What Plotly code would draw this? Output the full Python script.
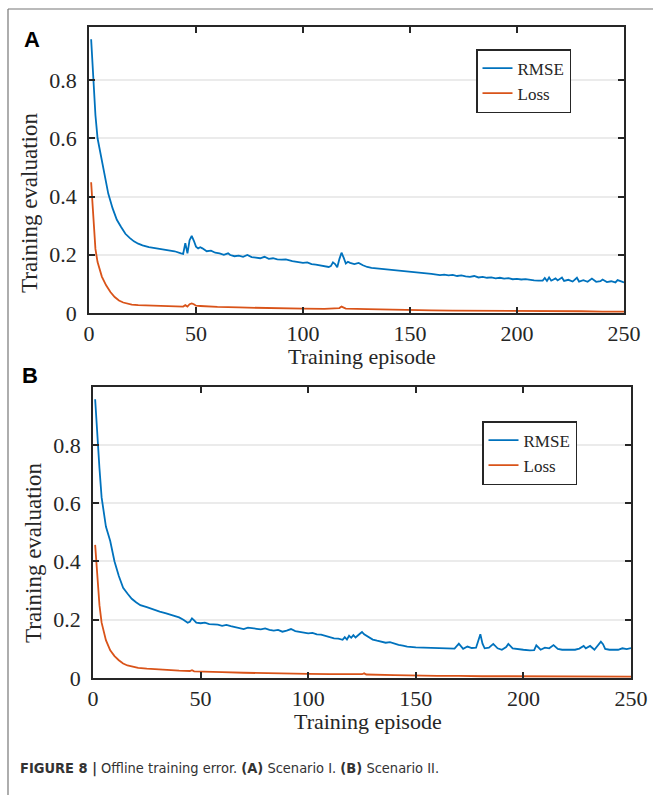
import plotly.graph_objects as go

# ---------------- data ----------------
ep_rmse_a = [1, 2, 3, 4, 5, 7, 9, 11, 13, 15, 17, 19, 21, 23, 25, 28, 31, 34, 37, 40, 43, 44, 45, 46, 47, 48, 49, 50,
             51, 52, 53, 55, 57, 59, 61, 63, 65, 66, 68, 70, 72, 74, 76, 78, 80, 82, 84, 86, 88, 90, 92, 95, 98, 100,
             102, 104, 106, 108, 110, 112, 113, 114, 115, 116, 117, 118, 119, 120, 121, 122, 124, 126, 128, 130, 132,
             135, 138, 142, 146, 150, 155, 160, 164, 166, 168, 170, 172, 174, 176, 178, 180, 182, 184, 186, 188, 190,
             192, 194, 196, 198, 200, 202, 204, 206, 208, 210, 212, 213, 214, 215, 216, 218, 219, 221, 222, 224, 226,
             228, 229, 231, 233, 235, 237, 239, 240, 242, 244, 246, 247, 249, 250]
rmse_a = [0.94, 0.80, 0.68, 0.60, 0.56, 0.48, 0.41, 0.36, 0.32, 0.295, 0.272, 0.258, 0.246, 0.238, 0.232, 0.226, 0.222,
          0.219, 0.216, 0.212, 0.205, 0.203, 0.240, 0.205, 0.250, 0.265, 0.248, 0.228, 0.222, 0.226, 0.222, 0.212,
          0.214, 0.207, 0.205, 0.200, 0.205, 0.199, 0.195, 0.197, 0.193, 0.199, 0.192, 0.191, 0.188, 0.193, 0.186,
          0.188, 0.184, 0.183, 0.184, 0.178, 0.175, 0.172, 0.174, 0.168, 0.166, 0.163, 0.160, 0.158, 0.161, 0.174,
          0.168, 0.157, 0.185, 0.207, 0.190, 0.170, 0.176, 0.172, 0.168, 0.172, 0.164, 0.158, 0.155, 0.153, 0.150,
          0.148, 0.145, 0.142, 0.138, 0.134, 0.130, 0.132, 0.129, 0.131, 0.127, 0.129, 0.126, 0.124, 0.127, 0.122,
          0.124, 0.121, 0.122, 0.119, 0.121, 0.118, 0.120, 0.116, 0.117, 0.115, 0.116, 0.113, 0.112, 0.111, 0.111,
          0.120, 0.110, 0.122, 0.111, 0.119, 0.112, 0.122, 0.110, 0.114, 0.108, 0.121, 0.108, 0.113, 0.107, 0.118,
          0.107, 0.109, 0.115, 0.106, 0.109, 0.105, 0.113, 0.108, 0.105]

ep_loss_a = [1, 2, 3, 4, 5, 6, 8, 10, 12, 14, 16, 18, 20, 23, 26, 30, 35, 40, 44, 45, 46, 47, 48, 49, 50, 52, 55, 60,
             70, 80, 90, 100, 110, 115, 117, 118, 119, 120, 130, 140, 150, 160, 170, 180, 190, 200, 210, 215, 220,
             230, 240, 250]
loss_a = [0.449, 0.33, 0.22, 0.175, 0.15, 0.125, 0.095, 0.072, 0.055, 0.043, 0.036, 0.032, 0.029, 0.027, 0.026, 0.025,
          0.024, 0.023, 0.022, 0.027, 0.022, 0.030, 0.033, 0.030, 0.025, 0.024, 0.022, 0.021, 0.019, 0.017, 0.016,
          0.015, 0.014, 0.015, 0.017, 0.022, 0.018, 0.015, 0.013, 0.011, 0.010, 0.009, 0.008, 0.008, 0.007, 0.007,
          0.006, 0.007, 0.006, 0.006, 0.005, 0.005]

ep_rmse_b = [1, 2, 3, 4, 5, 6, 8, 10, 12, 14, 16, 18, 20, 22, 25, 28, 31, 34, 37, 40, 42, 44, 45, 46, 47, 48, 50, 52,
             54, 56, 58, 60, 62, 64, 66, 68, 70, 72, 74, 76, 78, 80, 82, 84, 86, 88, 90, 92, 94, 96, 98, 100, 102,
             104, 106, 108, 110, 112, 114, 116, 117, 118, 119, 120, 121, 122, 124, 125, 126, 128, 130, 132, 134, 136,
             138, 140, 142, 144, 146, 150, 155, 160, 165, 168, 170, 171, 172, 174, 176, 178, 180, 181, 182, 184, 186,
             188, 190, 192, 193, 195, 197, 200, 203, 205, 206, 208, 210, 212, 214, 216, 218, 220, 222, 224, 226, 228,
             229, 231, 233, 235, 236, 237, 238, 240, 242, 244, 246, 248, 250]
rmse_b = [0.957, 0.82, 0.72, 0.62, 0.56, 0.52, 0.47, 0.40, 0.35, 0.31, 0.29, 0.272, 0.26, 0.25, 0.243, 0.235, 0.228,
          0.222, 0.216, 0.208, 0.200, 0.190, 0.193, 0.205, 0.198, 0.190, 0.188, 0.190, 0.185, 0.184, 0.183, 0.179,
          0.182, 0.178, 0.174, 0.172, 0.168, 0.173, 0.170, 0.169, 0.167, 0.170, 0.165, 0.163, 0.165, 0.159, 0.163,
          0.168, 0.161, 0.158, 0.156, 0.153, 0.155, 0.150, 0.149, 0.145, 0.142, 0.136, 0.135, 0.131, 0.140, 0.132,
          0.145, 0.138, 0.147, 0.139, 0.152, 0.158, 0.150, 0.140, 0.132, 0.128, 0.124, 0.121, 0.123, 0.118, 0.114,
          0.111, 0.108, 0.105, 0.104, 0.102, 0.102, 0.101, 0.118, 0.108, 0.100, 0.108, 0.103, 0.104, 0.150, 0.118,
          0.102, 0.104, 0.117, 0.102, 0.097, 0.106, 0.117, 0.102, 0.099, 0.097, 0.095, 0.096, 0.112, 0.097, 0.104,
          0.102, 0.113, 0.100, 0.097, 0.097, 0.099, 0.097, 0.101, 0.110, 0.102, 0.110, 0.097, 0.114, 0.125, 0.116,
          0.100, 0.097, 0.098, 0.097, 0.102, 0.099, 0.103]

ep_loss_b = [1, 2, 3, 4, 5, 6, 8, 10, 12, 14, 16, 18, 21, 25, 30, 35, 40, 45, 46, 47, 50, 60, 70, 80, 90, 100, 110,
             125, 126, 127, 140, 150, 160, 170, 180, 181, 190, 200, 210, 220, 230, 240, 250]
loss_b = [0.457, 0.35, 0.25, 0.19, 0.155, 0.13, 0.095, 0.075, 0.061, 0.05, 0.043, 0.039, 0.035, 0.032, 0.029, 0.027,
          0.025, 0.024, 0.027, 0.023, 0.022, 0.020, 0.018, 0.016, 0.015, 0.014, 0.013, 0.013, 0.016, 0.012, 0.010,
          0.008, 0.007, 0.007, 0.008, 0.006, 0.006, 0.006, 0.005, 0.005, 0.005, 0.005, 0.005]

series_names = ["RMSE", "Loss"]
x_ticks = [0, 50, 100, 150, 200, 250]
y_ticks = [0, 0.2, 0.4, 0.6, 0.8]
y_tick_text = ["0", "0.2", "0.4", "0.6", "0.8"]
x_title = "Training episode"
y_title = "Training evaluation"
panel_labels = ["A", "B"]
caption = "<b>FIGURE 8 |</b> Offline training error. <b>(A)</b> Scenario I. <b>(B)</b> Scenario II."

# ---------------- styling ----------------
BLUE = "#0072BD"
ORANGE = "#D95319"
SERIF = "Liberation Serif, Times New Roman, serif"
TXT = "#262626"
W, H = 653, 795

fig = go.Figure()

fig.add_trace(go.Scatter(x=ep_rmse_a, y=rmse_a, mode="lines", name=series_names[0],
                         line=dict(color=BLUE, width=1.8), xaxis="x", yaxis="y", legend="legend"))
fig.add_trace(go.Scatter(x=ep_loss_a, y=loss_a, mode="lines", name=series_names[1],
                         line=dict(color=ORANGE, width=1.8), xaxis="x", yaxis="y", legend="legend"))
fig.add_trace(go.Scatter(x=ep_rmse_b, y=rmse_b, mode="lines", name=series_names[0],
                         line=dict(color=BLUE, width=1.8), xaxis="x2", yaxis="y2", legend="legend2"))
fig.add_trace(go.Scatter(x=ep_loss_b, y=loss_b, mode="lines", name=series_names[1],
                         line=dict(color=ORANGE, width=1.8), xaxis="x2", yaxis="y2", legend="legend2"))


def px_x(p):
    return p / W


def px_y(p):
    return 1 - p / H


axis_common = dict(showline=True, linecolor=TXT, linewidth=1.6, mirror="ticks",
                   ticks="inside", ticklen=6, tickwidth=1.6, tickcolor=TXT, automargin=False,
                   tickfont=dict(family=SERIF, size=22, color=TXT), zeroline=False)

legend_common = dict(xanchor="left", yanchor="top", bgcolor="white", bordercolor=TXT, borderwidth=1.5,
                     font=dict(family=SERIF, size=17, color=TXT), tracegroupgap=0)

fig.update_layout(
    width=W, height=H,
    margin=dict(l=0, r=0, t=0, b=0, pad=0, autoexpand=False),
    paper_bgcolor="white", plot_bgcolor="white",
    showlegend=True,
    xaxis=dict(domain=[px_x(89), px_x(624)], range=[0, 250], tickvals=x_ticks,
               showgrid=False, anchor="y", ticklabelstandoff=0, **axis_common),
    yaxis=dict(domain=[px_y(313), px_y(27)], range=[0, 0.982], tickvals=y_ticks, ticktext=y_tick_text,
               showgrid=True, gridcolor="#ebebeb", gridwidth=1.5, anchor="x", ticklabelstandoff=6,
               **axis_common),
    xaxis2=dict(domain=[px_x(93), px_x(631)], range=[0, 250], tickvals=x_ticks,
                showgrid=False, anchor="y2", ticklabelstandoff=0, **axis_common),
    yaxis2=dict(domain=[px_y(678), px_y(387)], range=[0, 0.999], tickvals=y_ticks, ticktext=y_tick_text,
                showgrid=True, gridcolor="#ebebeb", gridwidth=1.5, anchor="x2", ticklabelstandoff=6,
                **axis_common),
    legend=dict(x=px_x(476), y=px_y(49), **legend_common),
    legend2=dict(x=px_x(482), y=px_y(421), **legend_common),
)

annotations = []


def ann(text, x, y, size, family=SERIF, angle=0, xanchor="center", color=TXT):
    annotations.append(dict(text=text, x=px_x(x), y=px_y(y), xref="paper", yref="paper",
                            xanchor=xanchor, yanchor="middle", textangle=angle, showarrow=False,
                            font=dict(family=family, size=size, color=color)))


# axis titles
ann(x_title, 362, 356, 22)
ann(x_title, 368, 721, 22)
ann(y_title, 30, 203, 23, angle=-90)
ann(y_title, 33, 553, 23, angle=-90)
# panel labels
ann("<b>%s</b>" % panel_labels[0], 32, 40, 22, family="Liberation Sans, Arial, sans-serif", color="black")
ann("<b>%s</b>" % panel_labels[1], 30, 375, 22, family="Liberation Sans, Arial, sans-serif", color="black")
# caption
ann(caption, 18, 768, 14.5, family="DejaVu Sans Condensed, Liberation Sans, sans-serif", xanchor="left",
    color="#333333")
fig.update_layout(annotations=annotations)

# outer page frame lines (top and left)
fig.add_shape(type="line", xref="paper", yref="paper", x0=px_x(8), x1=1, y0=px_y(9), y1=px_y(9),
              line=dict(color="#777777", width=1.2))
fig.add_shape(type="line", xref="paper", yref="paper", x0=px_x(8), x1=px_x(8), y0=px_y(9), y1=0,
              line=dict(color="#777777", width=1.2))

post = (
    "document.documentElement.style.margin='0';document.documentElement.style.overflow='hidden';"
    "document.body.style.margin='0';document.body.style.padding='0';document.body.style.overflow='hidden';"
    "var gd=document.getElementsByClassName('plotly-graph-div')[0];"
    "gd.style.position='fixed';gd.style.left='0px';gd.style.top='0px';"
)
fig.write_html("out.html", config={"displayModeBar": False}, post_script=post)
